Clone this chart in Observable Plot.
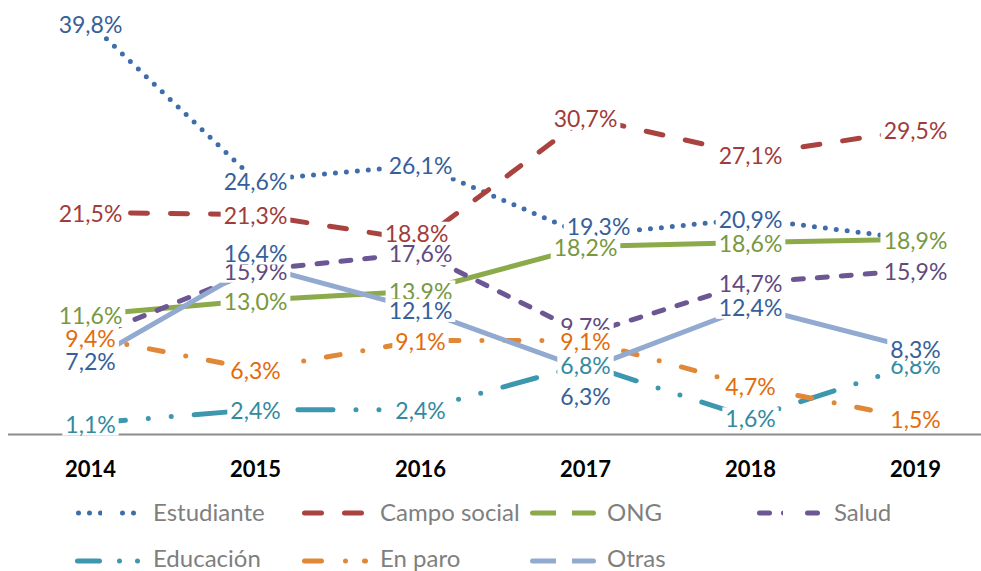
<!DOCTYPE html>
<html><head><meta charset="utf-8">
<script src="https://cdn.jsdelivr.net/npm/d3@7"></script>
<script src="https://cdn.jsdelivr.net/npm/@observablehq/plot@0.6"></script>
<style>
body{margin:0;background:#fff;}
#wrap{position:relative;width:981px;height:571px;overflow:hidden;font-family:Lato, sans-serif;background:#fff;}
#legend{position:absolute;left:0;top:490px;width:981px;height:81px;}
.lg-text{position:absolute;font-family:Lato, sans-serif;font-size:24px;line-height:24px;color:#7F7F7F;white-space:nowrap;}
.lg-key{position:absolute;overflow:visible;}
svg g[aria-label="x-axis tick label"] text{font-weight:bold;}
</style></head>
<body><div id="wrap"><div id="chart"></div><div id="legend"></div></div>
<script>
// ---- data ----
const years = ["2014", "2015", "2016", "2017", "2018", "2019"];
const estudiante  = [39.8, 24.6, 26.1, 19.3, 20.9, 18.9];
const campoSocial = [21.5, 21.3, 18.8, 30.7, 27.1, 29.5];
const ong         = [11.6, 13.0, 13.9, 18.2, 18.6, 18.9];
const salud       = [9.4, 15.9, 17.6, 9.7, 14.7, 15.9];
const educacion   = [1.1, 2.4, 2.4, 6.8, 1.6, 6.8];
const enParo      = [9.4, 6.3, 9.1, 9.1, 4.7, 1.5];
const otras       = [7.2, 16.4, 12.1, 6.3, 12.4, 8.3];
const seriesNames = ["Estudiante", "Campo social", "ONG", "Salud", "Educación", "En paro", "Otras"];
const seriesValues = [estudiante, campoSocial, ong, salud, educacion, enParo, otras];

// ---- styles ----
const lineColors  = ["#3F6DAA", "#A9433F", "#8BAA4A", "#6C5795", "#3C97AF", "#E08838", "#92A9D0"];
const labelColors = ["#35609A", "#A03C3A", "#789840", "#604A80", "#338A9F", "#E36C0A", "#35609A"];
const dashes      = ["0,11", "17,23", null, "10,14", "35,23,0,23,0,23", "14,23,0,23", null];
const legendDash  = ["0,11", "17,23", null, "10,14", "22,20,0,18,0,40", "17,24,0,19,17,40", null];
const legendGap   = [true, false, true, true, false, false, true];
// manual label nudges (pixels), as in the original
const nudges = {"Estudiante|2017": [13, -10], "Salud|2017": [0, -9], "Otras|2017": [0, 26], "Otras|2015": [0, -13], "Campo social|2016": [-4, -8]};
const legendLayout = [[76,153,0],[302,380,0],[530,607,0],[757,834,0],[75,153,1],[302,380,1],[530,607,1]];

const fmt = v => v.toFixed(1).replace(".", ",") + "%";
const series = seriesNames.map((name, k) => ({
  name, color: lineColors[k], label: labelColors[k], dash: dashes[k],
  rows: years.map((year, i) => ({year, value: seriesValues[k][i]}))
}));

const marks = [Plot.ruleY([0], {stroke: "#8C8C8C", strokeWidth: 2})];
series.forEach(s => {
  const opts = {x: "year", y: "value", stroke: s.color, strokeWidth: 5, strokeLinecap: "round", strokeLinejoin: "round"};
  if (s.dash) opts.strokeDasharray = s.dash;
  marks.push(Plot.line(s.rows, opts));
});
series.forEach(s => {
  const base = {x: "year", y: "value", text: r => fmt(r.value), fill: s.label, fontSize: 23, fontFamily: "Lato", lineAnchor: "middle"};
  const plain = s.rows.filter(r => !nudges[s.name + "|" + r.year]);
  marks.push(Plot.text(plain, {...base, dy: 2}));
  s.rows.filter(r => nudges[s.name + "|" + r.year]).forEach(r => {
    const [dx, dy] = nudges[s.name + "|" + r.year];
    marks.push(Plot.text([r], {...base, dx, dy: 2 + dy}));
  });
});
marks.push(Plot.axisX({tickSize: 0, tickPadding: 27, fontSize: 22, fontWeight: "bold", fontFamily: "Lato", color: "#000", fill: "#000", label: null}));

const chart = Plot.plot({
  width: 981, height: 490,
  marginLeft: 8, marginRight: 0, marginTop: 21, marginBottom: 56,
  x: {type: "point", domain: years, range: [90, 915], padding: 0, label: null},
  y: {domain: [0, 40], axis: null},
  style: {fontFamily: "Lato", background: "white", overflow: "visible"},
  marks
});
document.getElementById("chart").append(chart);

// white boxes behind data labels (like the spreadsheet's label fill)
Array.from(chart.querySelectorAll("text"))
  .filter(t => /%$/.test(t.textContent.trim()))
  .forEach(t => {
    const b = t.getBBox();
    const r = document.createElementNS("http://www.w3.org/2000/svg", "rect");
    r.setAttribute("x", b.x - 3);
    r.setAttribute("y", b.y + 3);
    r.setAttribute("width", b.width + 6);
    r.setAttribute("height", 23);
    const tr = t.getAttribute("transform");
    if (tr) r.setAttribute("transform", tr);
    r.setAttribute("style", "fill:#ffffff;stroke:none");
    t.parentNode.insertBefore(r, t);
  });

// legend
const legend = document.getElementById("legend");
const rowCenters = [23, 71];
const rowTextTop = [10, 56];
seriesNames.forEach((name, k) => {
  const [kx, tx, row] = legendLayout[k];
  const svg = d3.create("svg").attr("class", "lg-key").attr("width", 66).attr("height", 12)
    .style("left", kx + "px").style("top", (rowCenters[row] - 6) + "px");
  const ln = svg.append("line").attr("x1", 2.5).attr("x2", 63.5).attr("y1", 6).attr("y2", 6)
    .attr("stroke", lineColors[k]).attr("stroke-width", 5).attr("stroke-linecap", "round");
  if (legendDash[k]) ln.attr("stroke-dasharray", legendDash[k]);
  if (legendGap[k]) svg.append("rect").attr("x", 26).attr("y", 0).attr("width", 16).attr("height", 12).attr("fill", "white");
  legend.append(svg.node());
  const sp = document.createElement("span");
  sp.className = "lg-text";
  sp.style.left = tx + "px";
  sp.style.top = rowTextTop[row] + "px";
  sp.textContent = name;
  legend.append(sp);
});
</script>
</body></html>
